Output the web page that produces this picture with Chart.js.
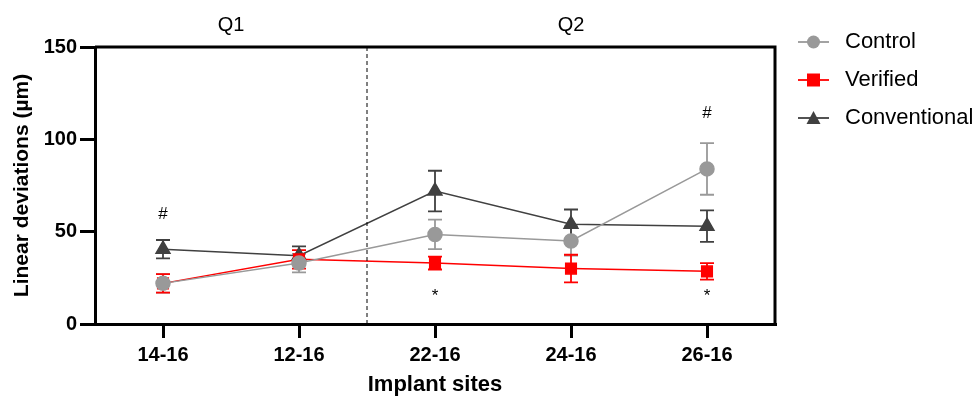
<!DOCTYPE html>
<html>
<head>
<meta charset="utf-8">
<script src="https://cdn.jsdelivr.net/npm/chart.js@4/dist/chart.umd.min.js"></script>
<style>
  html, body { margin: 0; padding: 0; background: #fff; }
  #wrap { width: 976px; height: 397px; }
</style>
</head>
<body>
<div id="wrap"><canvas id="chart" width="976" height="397"></canvas></div>
<script>
const sites = ["14-16", "12-16", "22-16", "24-16", "26-16"];
const yTicks = [0, 50, 100, 150];

const control = [22, 33, 48.5, 45, 84];
const controlErr = [5, 5, 8, 8, 14];
const verified = [22, 35, 33, 30, 28.5];
const verifiedErr = [5, 5, 3.5, 7.5, 4.5];
const conventional = [40.5, 37, 72, 54, 53];
const conventionalErr = [5, 5, 11, 8, 8.5];

// quadrant groups: name + index of first site
const groups = ["Q1", "Q2"];
const groupStart = [0, 2];

// significance marks: site, symbol, value (µm)
const markSites = ["14-16", "26-16", "22-16", "26-16"];
const markText = ["#", "#", "*", "*"];
const markValue = [59.5, 114, 15, 15];

const FONT = "'Liberation Sans', Arial, sans-serif";
const GRAY = "#999999";
const RED = "#ff0000";
const DARK = "#404040";

const errors = [controlErr, verifiedErr, conventionalErr];

const extras = {
  id: "extras",
  beforeDatasetsDraw(chart) {
    const ctx = chart.ctx;
    const y = chart.scales.y;
    // error bars
    chart.data.datasets.forEach((ds, i) => {
      const meta = chart.getDatasetMeta(i);
      ctx.save();
      ctx.strokeStyle = ds.borderColor;
      ctx.lineWidth = 1.8;
      meta.data.forEach((pt, j) => {
        const v = ds.data[j], e = errors[i][j];
        const yt = y.getPixelForValue(v + e), yb = y.getPixelForValue(v - e);
        ctx.beginPath();
        ctx.moveTo(pt.x, yt); ctx.lineTo(pt.x, yb);
        ctx.moveTo(pt.x - 7, yt); ctx.lineTo(pt.x + 7, yt);
        ctx.moveTo(pt.x - 7, yb); ctx.lineTo(pt.x + 7, yb);
        ctx.stroke();
      });
      ctx.restore();
    });
  },
  afterDraw(chart) {
    const ctx = chart.ctx;
    const a = chart.chartArea;
    const x = chart.scales.x, y = chart.scales.y;
    ctx.save();
    // box top and right
    ctx.strokeStyle = "#000";
    ctx.lineWidth = 3;
    ctx.beginPath();
    ctx.moveTo(a.left, a.top); ctx.lineTo(a.right, a.top); ctx.lineTo(a.right, a.bottom);
    ctx.stroke();
    // dashed divider between groups
    const splitX = (x.getPixelForValue(groupStart[1] - 1) + x.getPixelForValue(groupStart[1])) / 2;
    ctx.lineWidth = 1;
    ctx.setLineDash([4, 3]);
    ctx.beginPath();
    ctx.moveTo(splitX, a.top); ctx.lineTo(splitX, a.bottom);
    ctx.stroke();
    ctx.setLineDash([]);
    // group labels
    ctx.fillStyle = "#000";
    ctx.font = "20px " + FONT;
    ctx.textAlign = "center";
    ctx.textBaseline = "middle";
    const bounds = [a.left, splitX, a.right];
    groups.forEach((g, i) => ctx.fillText(g, (bounds[i] + bounds[i + 1]) / 2, 25));
    // significance marks
    ctx.font = "17px " + FONT;
    markSites.forEach((s, i) => {
      ctx.fillText(markText[i], x.getPixelForValue(sites.indexOf(s)), y.getPixelForValue(markValue[i]));
    });
    // legend
    const ys = [42, 80, 118];
    chart.data.datasets.forEach((ds, i) => {
      const ly = ys[i];
      ctx.strokeStyle = ds.borderColor;
      ctx.lineWidth = 1.8;
      ctx.beginPath();
      ctx.moveTo(798, ly); ctx.lineTo(829, ly);
      ctx.stroke();
      ctx.fillStyle = ds.backgroundColor;
      ctx.beginPath();
      if (ds.pointStyle === "circle") {
        ctx.arc(813.5, ly, 6.5, 0, Math.PI * 2);
      } else if (ds.pointStyle === "rect") {
        ctx.rect(807, ly - 6.5, 13, 13);
      } else {
        ctx.moveTo(813.5, ly - 7); ctx.lineTo(820.5, ly + 6); ctx.lineTo(806.5, ly + 6); ctx.closePath();
      }
      ctx.fill();
      ctx.fillStyle = "#000";
      ctx.font = "22px " + FONT;
      ctx.textAlign = "left";
      ctx.fillText(ds.label, 845, ly);
    });
    ctx.restore();
  }
};

new Chart(document.getElementById("chart"), {
  type: "line",
  data: {
    labels: sites,
    datasets: [
      { label: "Control", data: control, borderColor: GRAY, backgroundColor: GRAY,
        pointStyle: "circle", pointRadius: 7, borderWidth: 1.5 },
      { label: "Verified", data: verified, borderColor: RED, backgroundColor: RED,
        pointStyle: "rect", pointRadius: 7.5, borderWidth: 1.5 },
      { label: "Conventional", data: conventional, borderColor: DARK, backgroundColor: DARK,
        pointStyle: "triangle", pointRadius: 8, borderWidth: 1.5 }
    ]
  },
  options: {
    responsive: false,
    animation: false,
    layout: { padding: { top: 47, right: 201, left: 0, bottom: 0 } },
    plugins: { legend: { display: false }, tooltip: { enabled: false } },
    elements: { point: { borderWidth: 0, hoverRadius: 7 }, line: { tension: 0 } },
    scales: {
      x: {
        offset: true,
        grid: { display: true, drawOnChartArea: false, drawTicks: true, tickLength: 14, color: "#000", lineWidth: 3, offset: false },
        border: { display: true, color: "#000", width: 3 },
        ticks: { color: "#000", font: { family: FONT, size: 20, weight: "bold" }, padding: 5 },
        title: { display: true, text: "Implant sites", color: "#000",
          font: { family: FONT, size: 22, weight: "bold" }, padding: { top: 0, bottom: -1 } },
        afterFit: s => { s.height = 73; }
      },
      y: {
        min: 0, max: 150,
        afterBuildTicks: s => { s.ticks = yTicks.map(v => ({ value: v })); },
        grid: { display: true, drawOnChartArea: false, drawTicks: true, tickLength: 15, color: "#000", lineWidth: 3 },
        border: { display: true, color: "#000", width: 3 },
        ticks: { color: "#000", font: { family: FONT, size: 20, weight: "bold" }, padding: 3 },
        title: { display: true, text: "Linear deviations (µm)", color: "#000",
          font: { family: FONT, size: 21, weight: "bold" }, padding: { top: 10, bottom: 0 } },
        afterFit: s => { s.width = 95; }
      }
    }
  },
  plugins: [extras]
});
</script>
</body>
</html>
